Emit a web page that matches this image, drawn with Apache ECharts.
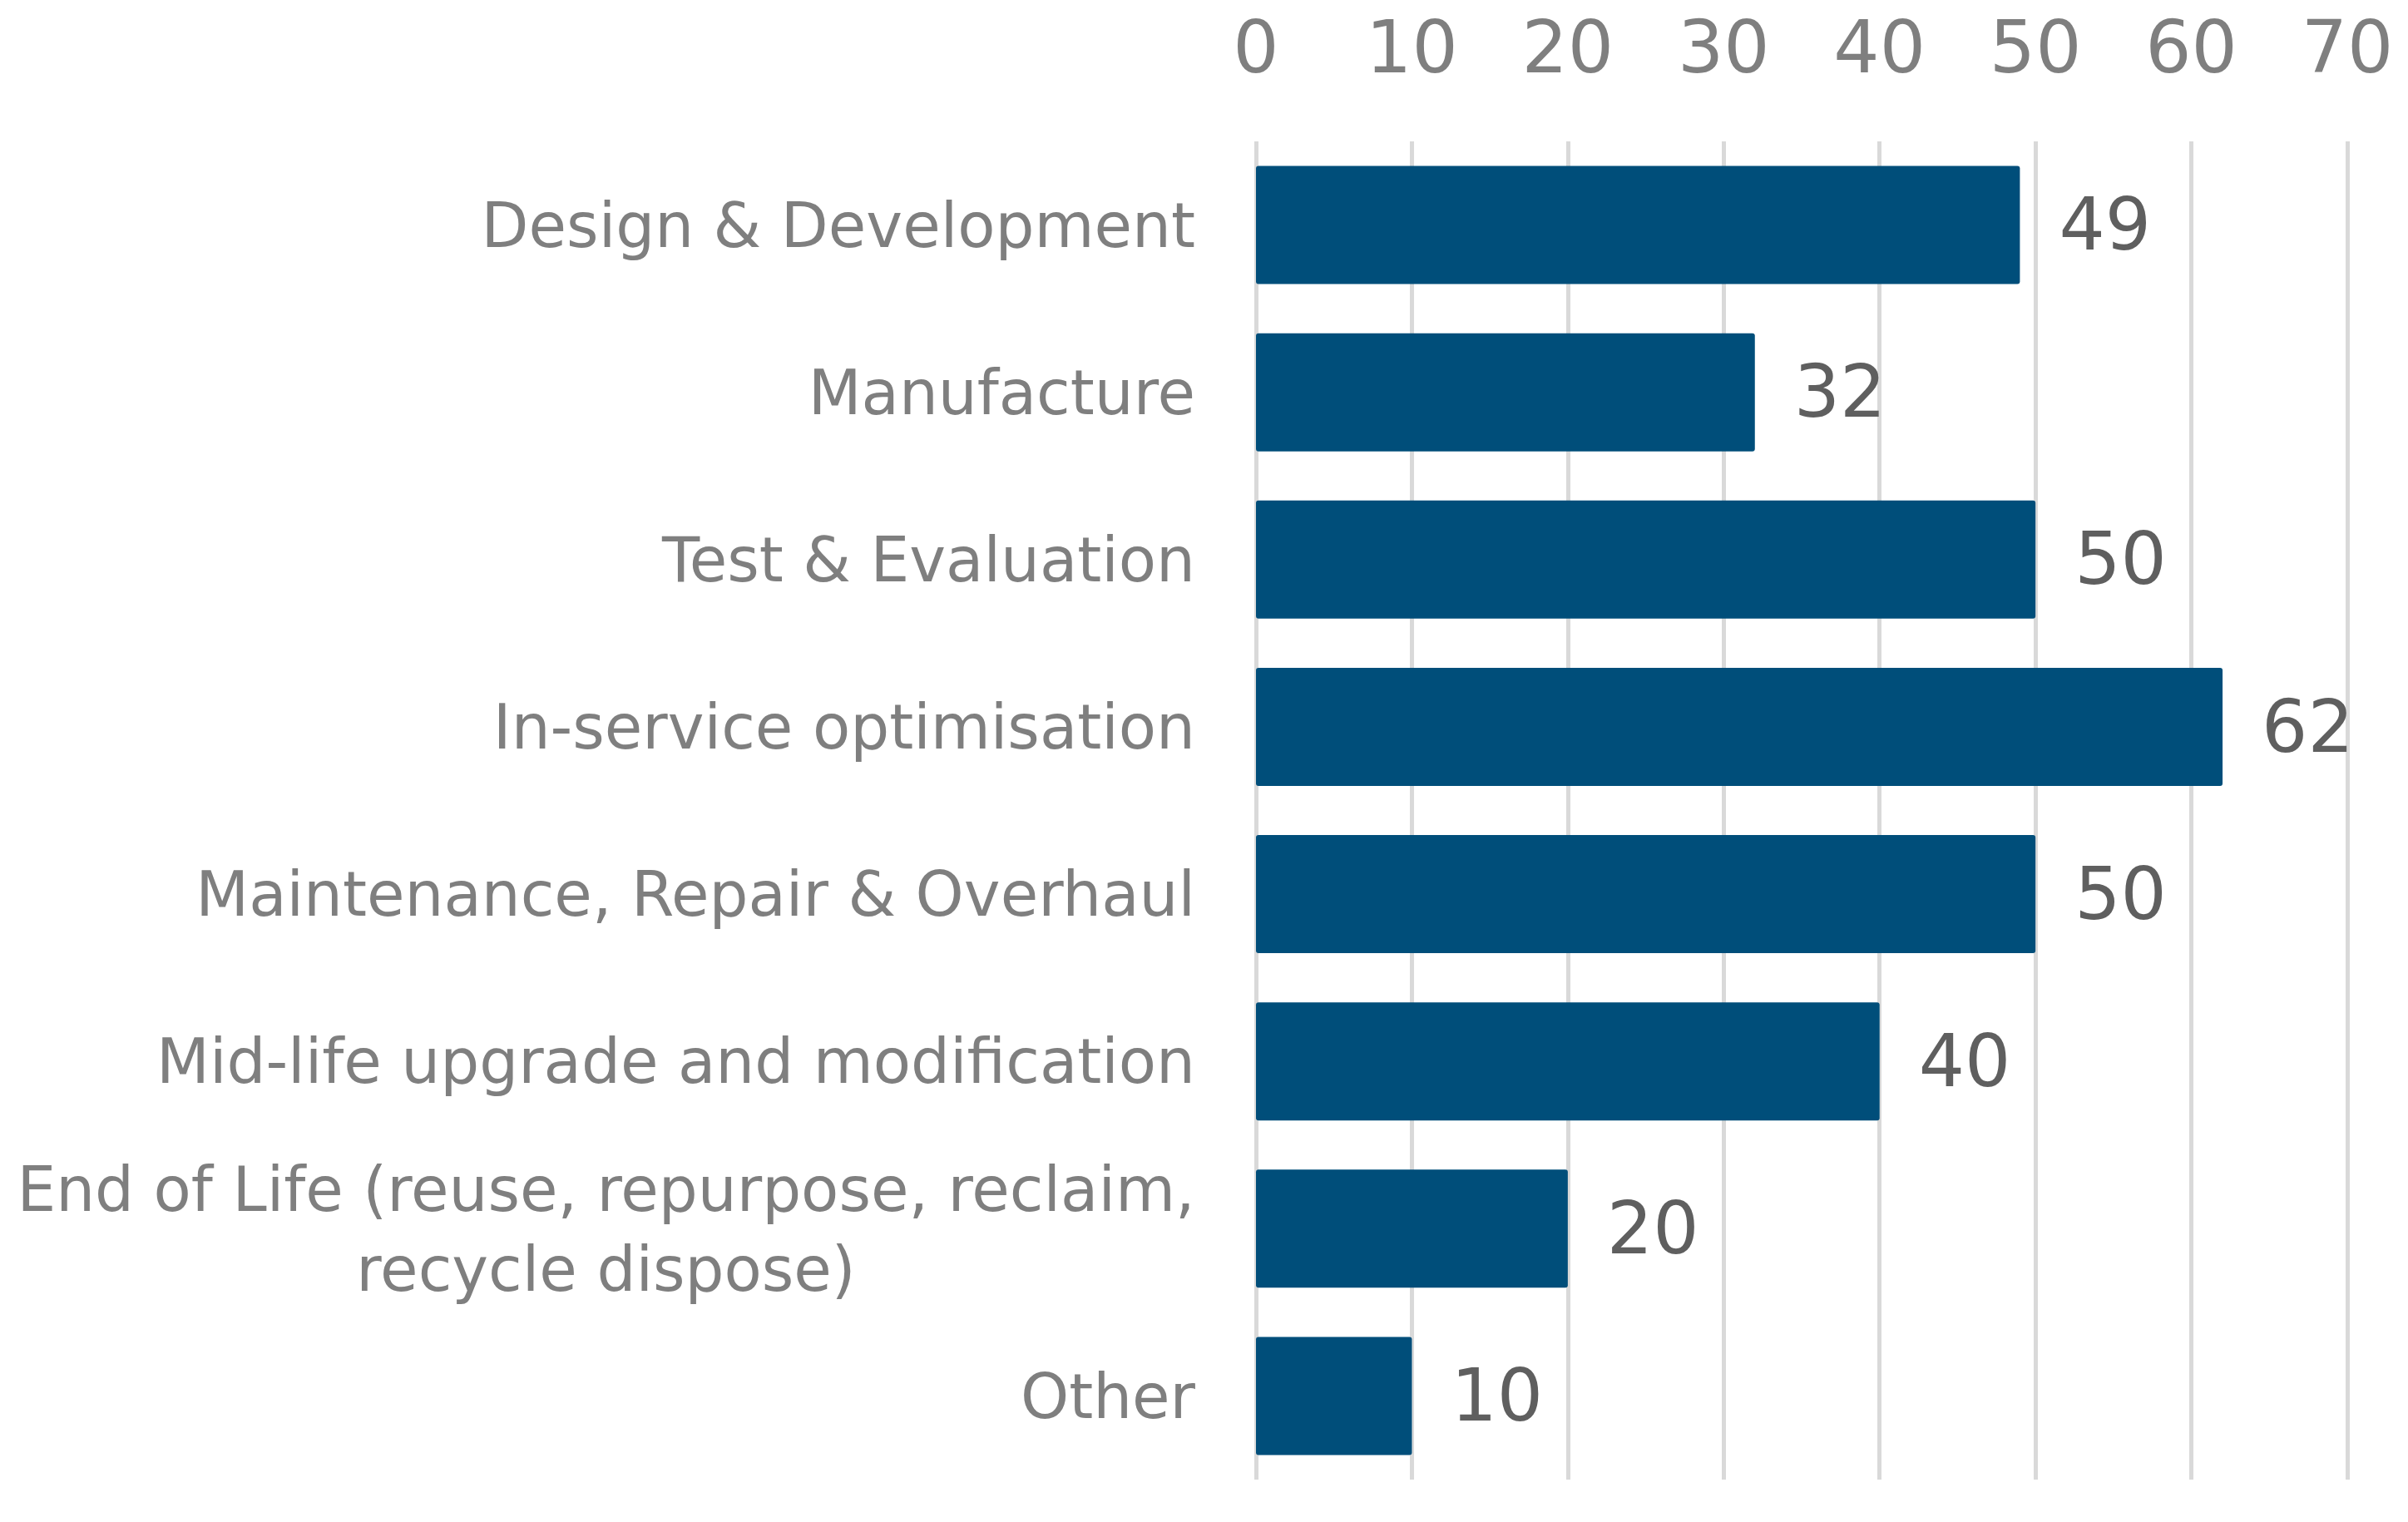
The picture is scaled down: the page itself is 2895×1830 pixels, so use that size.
<!DOCTYPE html>
<html>
<head>
<meta charset="utf-8">
<script src="https://cdn.jsdelivr.net/npm/echarts@6/dist/echarts.min.js"></script>
<style>
html,body{margin:0;padding:0;background:#fff;}
#chart{width:2895px;height:1830px;}
</style>
</head>
<body>
<div id="chart"></div>
<script>
const categories = [
  "Design & Development",
  "Manufacture",
  "Test & Evaluation",
  "In-service optimisation",
  "Maintenance, Repair & Overhaul",
  "Mid-life upgrade and modification",
  "End of Life (reuse, repurpose, reclaim,\nrecycle dispose)",
  "Other"
];
const values = [49, 32, 50, 62, 50, 40, 20, 10];
const xTicks = [0, 10, 20, 30, 40, 50, 60, 70];

const FONT = '"DejaVu Sans", "Liberation Sans", sans-serif';
const CAT_SIZE = 74;

// measure the widest line of multi-line labels so lines can be centred within the block
const ctx = document.createElement('canvas').getContext('2d');
ctx.font = CAT_SIZE + 'px ' + FONT;
function maxLineWidth(s) {
  return Math.ceil(Math.max.apply(null, s.split('\n').map(l => ctx.measureText(l).width)));
}
let multiW = 0;
categories.forEach(c => { if (c.indexOf('\n') >= 0) multiW = Math.max(multiW, maxLineWidth(c)); });

const chart = echarts.init(document.getElementById('chart'));
chart.setOption({
  animation: false,
  backgroundColor: '#ffffff',
  grid: { left: 1510, right: 73, top: 170, bottom: 51, containLabel: false },
  xAxis: {
    type: 'value',
    position: 'top',
    min: xTicks[0],
    max: xTicks[xTicks.length - 1],
    interval: 10,
    axisLine: { show: false },
    axisTick: { show: false },
    axisLabel: {
      color: '#7f7f7f',
      fontSize: 87,
      fontFamily: FONT,
      margin: 62
    },
    splitLine: { show: true, lineStyle: { color: '#d9d9d9', width: 5 } }
  },
  yAxis: {
    type: 'category',
    inverse: true,
    data: categories,
    axisLine: { show: false },
    axisTick: { show: false },
    axisLabel: {
      color: '#7f7f7f',
      fontSize: CAT_SIZE,
      lineHeight: 96,
      fontFamily: FONT,
      margin: 73,
      align: 'right',
      padding: [14, 0, 0, 0],
      formatter: function (v) {
        if (v.indexOf('\n') < 0) return v;
        return v.split('\n').map(l => '{c|' + l + '}').join('\n');
      },
      rich: {
        c: {
          width: multiW,
          align: 'center',
          color: '#7f7f7f',
          fontSize: CAT_SIZE,
          lineHeight: 96,
          fontFamily: FONT
        }
      }
    }
  },
  series: [{
    type: 'bar',
    data: values,
    barWidth: '70.6%',
    itemStyle: { color: '#004e7a', borderRadius: 3 },
    label: {
      show: true,
      position: 'right',
      distance: 47,
      offset: [0, 7],
      color: '#5f5f5f',
      fontSize: 87,
      fontFamily: FONT
    }
  }]
});
</script>
</body>
</html>
